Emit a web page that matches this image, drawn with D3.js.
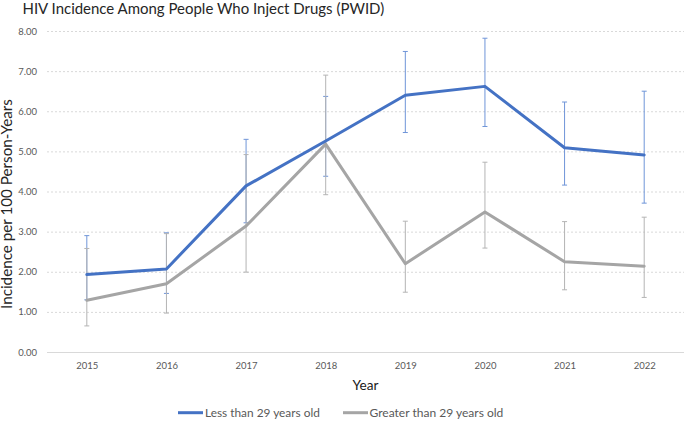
<!DOCTYPE html>
<html>
<head>
<meta charset="utf-8">
<script src="https://cdn.jsdelivr.net/npm/d3@7"></script>
<style>
  html, body { margin: 0; padding: 0; background: #fff; }
  svg { display: block; }
</style>
</head>
<body>
<svg id="chart" width="685" height="421"></svg>
<script>
// ---- Data ----
const years = ["2015", "2016", "2017", "2018", "2019", "2020", "2021", "2022"];
const lessValues   = [1.93, 2.07, 4.14, 5.26, 6.40, 6.62, 5.09, 4.91];
const lessLower    = [1.30, 1.46, 3.22, 4.38, 5.47, 5.62, 4.16, 3.71];
const lessUpper    = [2.90, 2.97, 5.30, 6.37, 7.49, 7.82, 6.23, 6.50];
const greaterValues = [1.29, 1.70, 3.14, 5.18, 2.20, 3.49, 2.25, 2.14];
const greaterLower  = [0.65, 0.97, 1.99, 3.92, 1.49, 2.59, 1.55, 1.36];
const greaterUpper  = [2.58, 2.95, 4.92, 6.90, 3.26, 4.73, 3.25, 3.36];
const yTicks = [0, 1, 2, 3, 4, 5, 6, 7, 8];
const seriesNames = ["Less than 29 years old", "Greater than 29 years old"];
const titleText = "HIV Incidence Among People Who Inject Drugs (PWID)";
const xTitle = "Year";
const yTitle = "Incidence per 100 Person-Years";

// ---- Layout ----
const svg = d3.select("#chart");
const plotLeft = 47, plotRight = 684, plotTop = 31, plotBottom = 352;
const FONT = "Lato, 'Open Sans', 'DejaVu Sans', sans-serif";
const blue = "#4472C4", gray = "#A5A5A5";

const x = d3.scalePoint().domain(years).range([plotLeft, plotRight]).padding(0.5);
const y = d3.scaleLinear().domain([0, 8]).range([plotBottom, plotTop]);

function fit(sel, target) {
  const w = sel.node().getComputedTextLength();
  const fs = parseFloat(sel.attr("font-size"));
  sel.attr("font-size", fs * target / w);
}

// Gridlines + y labels
const yAxis = svg.append("g")
  .attr("transform", `translate(${plotLeft},0)`)
  .call(d3.axisLeft(y).tickValues(yTicks).tickFormat(d3.format(".2f"))
    .tickSize(-(plotRight - plotLeft)).tickPadding(10));
yAxis.select(".domain").remove();
yAxis.selectAll(".tick line")
  .attr("stroke", "#d9d9d9")
  .attr("stroke-width", 1)
  .attr("stroke-dasharray", d => d === 0 ? null : "2,2");
yAxis.selectAll(".tick text")
  .attr("font-family", FONT).attr("font-size", 9.5).attr("fill", "#595959");

// X axis labels
const xAxis = svg.append("g")
  .attr("transform", `translate(0,${plotBottom})`)
  .call(d3.axisBottom(x).tickSize(0).tickPadding(10));
xAxis.select(".domain").remove();
xAxis.selectAll(".tick text")
  .attr("font-family", FONT).attr("font-size", 9.5).attr("fill", "#595959");

// Error bars
function errorBars(lo, hi, color, cls) {
  const g = svg.append("g").attr("class", cls)
    .attr("stroke", color).attr("stroke-width", 1).attr("fill", "none");
  const data = years.map((yr, i) => ({ yr, lo: lo[i], hi: hi[i] }));
  g.selectAll("line.v").data(data).join("line").attr("class", "v")
    .attr("x1", d => x(d.yr)).attr("x2", d => x(d.yr))
    .attr("y1", d => y(d.lo)).attr("y2", d => y(d.hi));
  g.selectAll("line.cl").data(data).join("line").attr("class", "cl")
    .attr("x1", d => x(d.yr) - 2.5).attr("x2", d => x(d.yr) + 2.5)
    .attr("y1", d => y(d.lo)).attr("y2", d => y(d.lo));
  g.selectAll("line.ch").data(data).join("line").attr("class", "ch")
    .attr("x1", d => x(d.yr) - 2.5).attr("x2", d => x(d.yr) + 2.5)
    .attr("y1", d => y(d.hi)).attr("y2", d => y(d.hi));
}
errorBars(lessLower, lessUpper, "#6f95d8", "eb-less");
errorBars(greaterLower, greaterUpper, "#b4b4b4", "eb-greater");

// Lines
const line = d3.line().x((d, i) => x(years[i])).y(d => y(d));
svg.append("path").datum(greaterValues)
  .attr("d", line).attr("fill", "none").attr("stroke", gray)
  .attr("stroke-width", 3).attr("stroke-linejoin", "round").attr("stroke-linecap", "round");
svg.append("path").datum(lessValues)
  .attr("d", line).attr("fill", "none").attr("stroke", blue)
  .attr("stroke-width", 3).attr("stroke-linejoin", "round").attr("stroke-linecap", "round");

// Title
const t = svg.append("text").attr("x", 22.5).attr("y", 13.5)
  .attr("font-family", FONT).attr("font-size", 16).attr("fill", "#262626")
  .text(titleText);
fit(t, 362);

// Axis titles
const xt = svg.append("text").attr("x", (plotLeft + plotRight) / 2).attr("y", 389.5)
  .attr("text-anchor", "middle").attr("font-family", FONT)
  .attr("font-size", 12.5).attr("fill", "#1a1a1a").text(xTitle);
fit(xt, 26);

const yt = svg.append("text")
  .attr("transform", `translate(11.5,204) rotate(-90)`)
  .attr("text-anchor", "middle").attr("font-family", FONT)
  .attr("font-size", 12.5).attr("fill", "#262626").text(yTitle);
fit(yt, 210);

// Legend
const legend = [
  { name: seriesNames[0], color: blue, x0: 178, tx: 205, w: 115 },
  { name: seriesNames[1], color: gray, x0: 343, tx: 369.5, w: 134 }
];
legend.forEach(l => {
  svg.append("line").attr("x1", l.x0).attr("x2", l.x0 + 25)
    .attr("y1", 412.7).attr("y2", 412.7)
    .attr("stroke", l.color).attr("stroke-width", 3);
  const lt = svg.append("text").attr("x", l.tx).attr("y", 417)
    .attr("font-family", FONT).attr("font-size", 11.5).attr("fill", "#595959")
    .text(l.name);
  fit(lt, l.w);
});
</script>
</body>
</html>
